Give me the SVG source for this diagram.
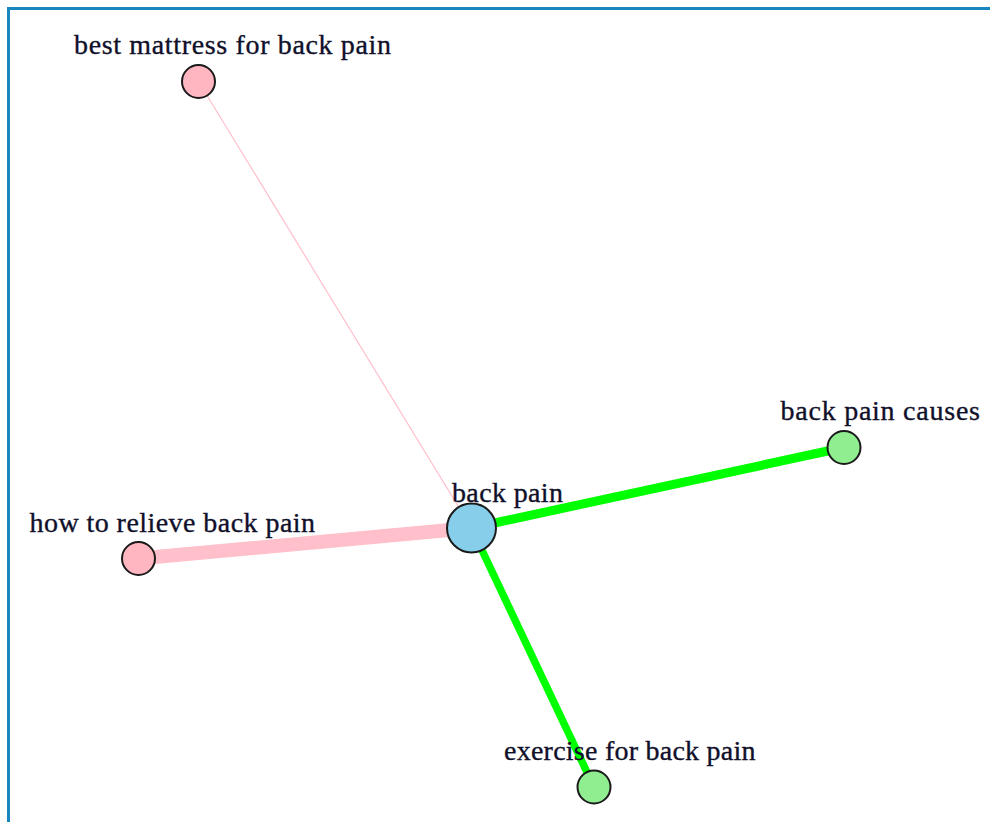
<svg xmlns="http://www.w3.org/2000/svg" width="990" height="822" viewBox="0 0 990 822">
  <style>
    .label { font-family: "Liberation Serif", "Times New Roman", serif; font-size: 28px; fill: #10102a; stroke: #10102a; stroke-width: 0.35; }
    .node circle { stroke: #1a1a1a; stroke-width: 2; }
    .pink { fill: #ffb6c1; }
    .green { fill: #90ee90; }
    .blue { fill: #87ceeb; }
    .edge { stroke-linecap: butt; fill: none; }
  </style>
  <rect x="0" y="0" width="990" height="822" fill="#ffffff"/>
  <!-- frame -->
  <path d="M8.5 822 V8.5 H990" fill="none" stroke="#1a86c0" stroke-width="3"/>

  <g id="edges">
    <line class="edge" x1="471.5" y1="528" x2="198.5" y2="81.5" stroke="#ffc0cb" stroke-width="1.2"/>
    <line class="edge" x1="471.5" y1="528" x2="138.5" y2="558.5" stroke="#ffc0cb" stroke-width="14"/>
    <line class="edge" x1="471.5" y1="528" x2="844" y2="447.5" stroke="#00ff00" stroke-width="9"/>
    <line class="edge" x1="471.5" y1="528" x2="594" y2="787" stroke="#00ff00" stroke-width="7.5"/>
  </g>

  <g id="node-best-mattress" class="node">
    <circle class="pink" cx="198.5" cy="81.5" r="16.5"/>
    <text class="label" x="74" y="54" textLength="317" lengthAdjust="spacing">best mattress for back pain</text>
  </g>
  <g id="node-how-to-relieve" class="node">
    <circle class="pink" cx="138.5" cy="558.5" r="16.5"/>
    <text class="label" x="29.5" y="531.5" textLength="285.5" lengthAdjust="spacing">how to relieve back pain</text>
  </g>
  <g id="node-back-pain-causes" class="node">
    <circle class="green" cx="844" cy="447.5" r="16.5"/>
    <text class="label" x="780.5" y="419.5" textLength="199.5" lengthAdjust="spacing">back pain causes</text>
  </g>
  <g id="node-exercise" class="node">
    <circle class="green" cx="594" cy="787" r="16.5"/>
    <text class="label" x="504" y="759.5" textLength="251.5" lengthAdjust="spacing">exercise for back pain</text>
  </g>
  <g id="node-back-pain" class="node">
    <circle class="blue" cx="471.5" cy="528" r="24.5"/>
    <text class="label" x="452" y="501.5" textLength="111" lengthAdjust="spacing">back pain</text>
  </g>
</svg>
